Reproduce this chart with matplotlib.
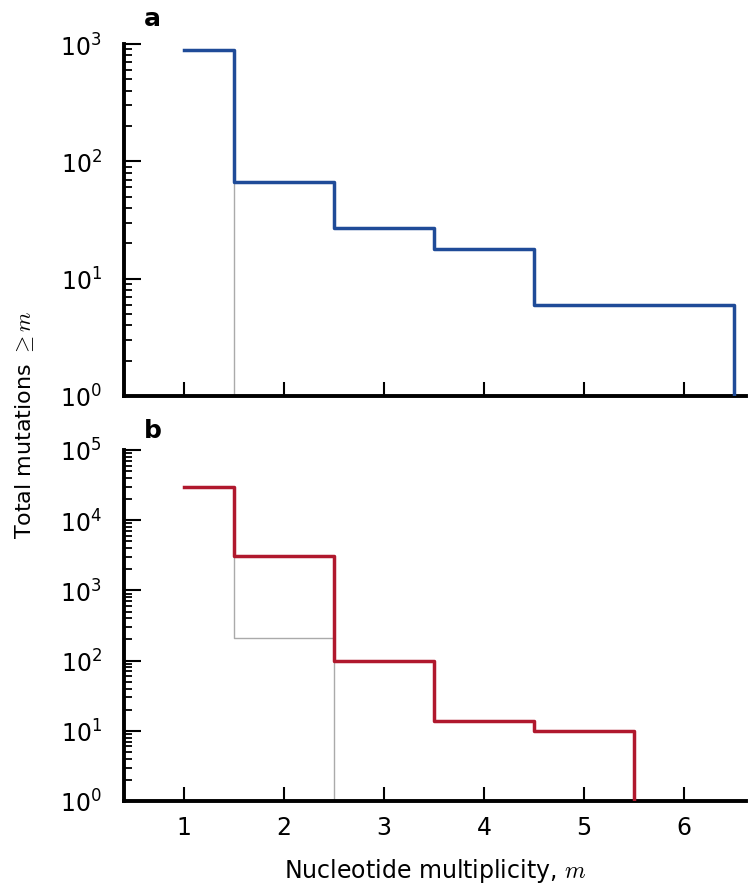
import numpy as np
import matplotlib
matplotlib.use("Agg")
import matplotlib.pyplot as plt
from matplotlib.ticker import LogLocator, FixedLocator

plt.rcParams['font.family'] = ['DejaVu Sans']
plt.rcParams['mathtext.fontset'] = 'cm'

# Data: total mutations with multiplicity >= m
m_top = [1, 2, 3, 4, 5, 6]
top_main = [894, 67, 27, 18, 6, 6]
top_gray = [894]

m_bot = [1, 2, 3, 4, 5]
bot_main = [30100, 3060, 99, 14, 10]
bot_gray = [30100, 209]

x_ticks = [1, 2, 3, 4, 5, 6]
panel_labels = ['a', 'b']
top_decades = [0, 3]
bot_decades = [0, 5]

BLUE = '#1f4b98'
RED = '#b0182d'
GRAY = '#aaaaaa'


def step_xy(values):
    n = len(values)
    m = np.arange(1, n + 1)
    x = np.concatenate([[m[0]], m[:-1] + 0.5, [m[-1] + 0.5]])
    y = np.concatenate([values, [0]])
    return x, y


fig = plt.figure(figsize=(7.56, 8.95), dpi=100)
W, H = 756, 895
ax1 = fig.add_axes([124 / W, 1 - 397 / H, (746 - 124) / W, (397 - 45) / H])
ax2 = fig.add_axes([124 / W, 1 - 802 / H, (746 - 124) / W, (802 - 451) / H], sharex=ax1)

label_pos = [(152, 19), (153, 431)]
for ax, main, gray, col, dec, lab, lp in [
    (ax1, top_main, top_gray, BLUE, top_decades, panel_labels[0], label_pos[0]),
    (ax2, bot_main, bot_gray, RED, bot_decades, panel_labels[1], label_pos[1]),
]:
    xg, yg = step_xy(gray)
    ax.step(xg, yg, where='post', color=GRAY, lw=1.0, zorder=2)
    xm, ym = step_xy(main)
    ax.step(xm, ym, where='post', color=col, lw=2.5, zorder=3)
    ax.set_yscale('log', nonpositive='clip')
    ax.set_ylim(10 ** dec[0], 10 ** dec[1])
    ax.yaxis.set_major_locator(LogLocator(base=10, numticks=10))
    ax.yaxis.set_minor_locator(LogLocator(base=10, subs=np.arange(2, 10), numticks=10))
    for s in ['top', 'right']:
        ax.spines[s].set_visible(False)
    for s in ['left', 'bottom']:
        ax.spines[s].set_linewidth(2.8)
    ax.tick_params(axis='y', which='major', direction='in', length=12, width=1.5,
                   labelsize=17, pad=16)
    ax.tick_params(axis='y', which='minor', direction='in', length=6, width=1.3)
    ax.tick_params(axis='x', which='major', direction='in', length=10, width=1.5,
                   labelsize=17, pad=10)
    ax.tick_params(axis='x', which='minor', bottom=False)
    fig.text(lp[0] / W, 1 - lp[1] / H, lab, fontsize=18, fontweight='bold',
             ha='center', va='center')

ax1.set_xlim(0.4, 6.62)
ax1.xaxis.set_major_locator(FixedLocator(x_ticks))
plt.setp(ax1.get_xticklabels(), visible=False)

ax2.set_xlabel(r'Nucleotide multiplicity, $m$', fontsize=17, labelpad=12)
fig.text(25 / W, 1 - 425 / H, r'Total mutations $\geq m$', rotation=90,
         fontsize=16, ha='center', va='center')

fig.savefig('out.png', dpi=100)
